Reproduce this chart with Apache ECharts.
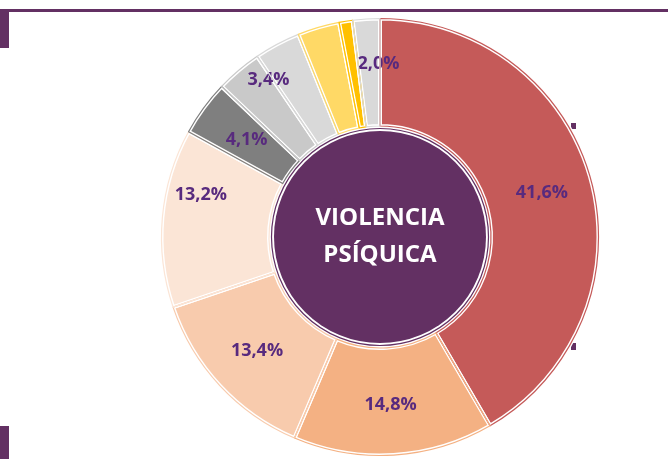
<!DOCTYPE html>
<html>
<head>
<meta charset="utf-8">
<style>
  html, body { margin: 0; padding: 0; background: #ffffff; }
  #chart { width: 668px; height: 459px; }
</style>
<script src="https://cdn.jsdelivr.net/npm/echarts@6/dist/echarts.min.js"></script>
</head>
<body>
<div id="chart"></div>
<script>
// Share of each category (percent), clockwise from 12 o'clock
const categories = ['Cat 1', 'Cat 2', 'Cat 3', 'Cat 4', 'Cat 5', 'Cat 6', 'Cat 7', 'Cat 8', 'Cat 9', 'Cat 10'];
const shares = [41.6, 14.8, 13.4, 13.2, 4.1, 3.4, 3.4, 3.1, 1.0, 2.0];
const showValue = [true, true, true, true, true, true, false, false, false, true];
const sliceColors = ['#C55A59', '#F4B183', '#F8CBAD', '#FBE5D6', '#7F7F7F', '#C9C9C9', '#D9D9D9', '#FFD966', '#FFC000', '#D9D9D9'];
// small nudges for labels that sit away from their slice centre
const labelNudge = [[0, 0], [0, 0], [0, 0], [-12, -27], [2, 2], [-3, -29], [0, 0], [0, 0], [0, 0], [9, -6]];
const centerTitle = 'VIOLENCIA\nPSÍQUICA';

const PURPLE = '#633063';
const LABEL_PURPLE = '#582A7E';
const CENTER = [380, 237];
const RING = [111, 218.5];
const FONT = 'Open Sans';

const chart = echarts.init(document.getElementById('chart'), null, { renderer: 'canvas' });

const fillData = categories.map((c, i) => ({
  name: c,
  value: shares[i],
  itemStyle: { color: sliceColors[i] }
}));
const outlineData = categories.map((c, i) => ({
  name: c,
  value: shares[i],
  itemStyle: { color: 'rgba(0,0,0,0)', borderColor: sliceColors[i] }
}));

chart.setOption({
  animation: false,
  backgroundColor: '#ffffff',
  graphic: [
    { type: 'rect', z: 0, shape: { x: 0, y: 9, width: 668, height: 3 }, style: { fill: PURPLE } },
    { type: 'rect', z: 0, shape: { x: 0, y: 12, width: 9, height: 36 }, style: { fill: PURPLE } },
    { type: 'rect', z: 0, shape: { x: 0, y: 426, width: 9, height: 33 }, style: { fill: PURPLE } },
    { type: 'rect', z: 0, shape: { x: 571, y: 123, width: 5, height: 6 }, style: { fill: PURPLE } },
    { type: 'rect', z: 0, shape: { x: 571, y: 343, width: 5, height: 7 }, style: { fill: PURPLE } }
  ],
  series: [
    {
      // slice fills, separated by white seams
      type: 'pie',
      z: 2,
      center: CENTER,
      radius: RING,
      startAngle: 90,
      clockwise: true,
      avoidLabelOverlap: false,
      silent: true,
      itemStyle: { borderColor: '#ffffff', borderWidth: 4 },
      label: {
        show: true,
        position: 'inside',
        fontFamily: FONT,
        fontWeight: 'bold',
        fontSize: 18,
        color: LABEL_PURPLE,
        formatter: p => showValue[p.dataIndex] ? p.value.toFixed(1).replace('.', ',') + '%' : ''
      },
      labelLine: { show: false },
      labelLayout: p => ({ dx: labelNudge[p.dataIndex][0], dy: labelNudge[p.dataIndex][1] }),
      data: fillData
    },
    {
      // thin outline of each slice, running inside the white seam
      type: 'pie',
      z: 3,
      center: CENTER,
      radius: RING,
      startAngle: 90,
      clockwise: true,
      silent: true,
      itemStyle: { borderWidth: 1.2 },
      label: { show: false },
      labelLine: { show: false },
      data: outlineData
    },
    {
      // thin ring around the central disc
      type: 'pie',
      z: 4,
      center: CENTER,
      radius: [0, 108.5],
      silent: true,
      itemStyle: { color: '#ffffff', borderColor: PURPLE, borderWidth: 1.2 },
      label: { show: false },
      labelLine: { show: false },
      data: [{ value: 1, name: 'ring' }]
    },
    {
      // central disc with the title
      type: 'pie',
      z: 5,
      center: CENTER,
      radius: [0, 106],
      silent: true,
      itemStyle: { color: PURPLE },
      label: {
        show: true,
        position: 'center',
        formatter: centerTitle,
        fontFamily: FONT,
        fontWeight: 'bold',
        fontSize: 24,
        lineHeight: 37,
        color: '#ffffff'
      },
      labelLine: { show: false },
      data: [{ value: 1, name: 'VIOLENCIA PSÍQUICA' }]
    }
  ]
});
</script>
</body>
</html>
